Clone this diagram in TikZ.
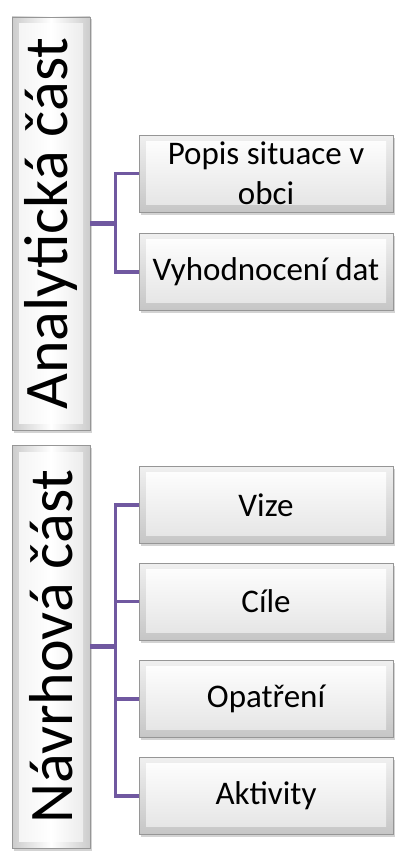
\documentclass[tikz,border=0pt]{standalone}
\usepackage{fontspec}
\setmainfont{Carlito}
\usetikzlibrary{shadows,calc}
\definecolor{conn}{RGB}{112,88,160}
\definecolor{boxedge}{RGB}{150,150,150}
\tikzset{
  childbox/.style={draw=boxedge, line width=0.6pt, inner sep=0pt,
    minimum width=254pt, minimum height=77pt, align=center,
    top color=gray!12, bottom color=gray!45,
    drop shadow={shadow xshift=2pt, shadow yshift=-2.5pt, opacity=0.35},
    font=\fontsize{33}{40}\selectfont,
    path picture={\fill[top color=white, bottom color=gray!22]
      ([shift={(7pt,-6pt)}]path picture bounding box.north west) rectangle
      ([shift={(-7pt,8pt)}]path picture bounding box.south east);}},
  parentbox/.style={draw=boxedge, line width=0.6pt, inner sep=0pt,
    minimum width=78pt, left color=gray!40, right color=gray!40, middle color=white,
    drop shadow={shadow xshift=2pt, shadow yshift=-2.5pt, opacity=0.35},
    font=\fontsize{62}{70}\selectfont,
    path picture={\fill[left color=gray!10, right color=gray!18, middle color=white]
      ([shift={(7pt,-7pt)}]path picture bounding box.north west) rectangle
      ([shift={(-7pt,7pt)}]path picture bounding box.south east);}},
  trunk/.style={draw=conn, line width=5pt},
  branch/.style={draw=conn, line width=3.5pt}
}
\begin{document}
\begin{tikzpicture}[x=1pt,y=-1pt]
\useasboundingbox (0,0) rectangle (394,851);
% parents
\node[parentbox, minimum height=413pt] (ana) at (51,223.5) {\rotatebox{90}{Analytická část}};
\node[parentbox, minimum height=403pt] (nav) at (51,646.5) {\rotatebox{90}{Návrhová část}};
% children
\node[childbox] (popis) at (266,173.5) {Popis situace v\\obci};
\node[childbox] (vyh) at (266,272) {Vyhodnocení dat};
\node[childbox] (vize) at (266,505) {Vize};
\node[childbox] (cile) at (266,601.5) {Cíle};
\node[childbox] (opat) at (266,699) {Opatření};
\node[childbox] (akt) at (266,796) {Aktivity};
% connectors
\coordinate (aj) at ($(ana.east)+(25,0)$);
\coordinate (nj) at ($(nav.east)+(25,0)$);
\draw[branch] (aj) |- (popis.west);
\draw[branch] (aj) |- (vyh.west);
\draw[trunk] (ana.east) -- (aj);
\draw[branch] (nj) |- (vize.west);
\draw[branch] (nj) |- (cile.west);
\draw[branch] (nj) |- (opat.west);
\draw[branch] (nj) |- (akt.west);
\draw[trunk] (nav.east) -- (nj);
\end{tikzpicture}
\end{document}
